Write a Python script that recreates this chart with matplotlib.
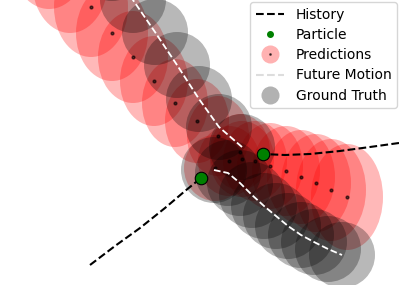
import matplotlib
matplotlib.use('Agg')
import matplotlib.pyplot as plt
from matplotlib.patches import Ellipse, Circle
from matplotlib.lines import Line2D
import numpy as np

# positions (pixel-like units, y grows downward)
hist1_x = [399, 370, 340, 310, 285, 263]
hist1_y = [143, 147, 151, 154, 155, 154]
hist2_x = [90, 115, 140, 165, 185, 201]
hist2_y = [265, 246, 228, 208, 191, 178]

particle_x = [263, 201]
particle_y = [154, 178]

# predicted means + ellipse sizes
pred1_x = [240, 218, 197, 175, 154, 133, 112, 91, 70, 49, 28]
pred1_y = [152, 136, 121, 103, 81, 57, 33, 7, -19, -45, -71]
pred1_w = [60, 62, 64, 66, 68, 70, 72, 74, 76, 78, 80]
pred1_h = [76, 80, 84, 88, 90, 92, 96, 100, 104, 108, 112]

pred2_x = [215, 229, 242, 255, 270, 286, 301, 316, 331, 347]
pred2_y = [168, 161, 159, 161, 166, 171, 177, 183, 190, 197]
pred2_w = [62, 62, 64, 64, 66, 68, 68, 70, 70, 72]
pred2_h = [66, 70, 76, 80, 86, 90, 94, 98, 102, 106]

# ground truth future
gt1_x = [242, 219, 199, 177, 155, 133, 112, 92, 72, 52]
gt1_y = [147, 127, 99, 65, 32, 0, -32, -64, -96, -128]
gt2_x = [214, 228, 240, 252, 264, 276, 288, 301, 314, 328, 342]
gt2_y = [170, 173, 183, 195, 206, 216, 226, 235, 242, 249, 255]
gt_r = 33

fig = plt.figure(figsize=(3.99, 2.85), dpi=100)
ax = fig.add_axes([0, 0, 1, 1])

for xs, ys, ws, hs in [(pred1_x, pred1_y, pred1_w, pred1_h), (pred2_x, pred2_y, pred2_w, pred2_h)]:
  for x, y, w, h in zip(xs, ys, ws, hs):
    ax.add_patch(Ellipse((x, y), w, h, color='red', alpha=0.28, lw=0, zorder=1))

for xs, ys in [(gt1_x, gt1_y), (gt2_x, gt2_y)]:
  for x, y in zip(xs, ys):
    ax.add_patch(Circle((x, y), gt_r, color='black', alpha=0.28, lw=0, zorder=2))
  ax.plot(xs, ys, '--', color='white', lw=1.3, zorder=4)

ax.plot(pred1_x, pred1_y, '.', color='black', alpha=0.6, ms=4, zorder=3)
ax.plot(pred2_x, pred2_y, '.', color='black', alpha=0.6, ms=4, zorder=3)

ax.plot(hist1_x, hist1_y, '--', color='black', lw=1.5, zorder=5)
ax.plot(hist2_x, hist2_y, '--', color='black', lw=1.5, zorder=5)
ax.plot(particle_x, particle_y, 'o', color='green', mec='black', mew=0.8, ms=9, zorder=6)

ax.set_xlim(0, 399)
ax.set_ylim(285, 0)
ax.axis('off')

handles = [
  Line2D([], [], ls='--', color='black', lw=1.5),
  Line2D([], [], ls='', marker='o', color='green', ms=4),
  (Line2D([], [], ls='', marker='o', color='red', alpha=0.3, ms=13, mew=0),
   Line2D([], [], ls='', marker='.', color='black', alpha=0.6, ms=2)),
  Line2D([], [], ls='--', color='#dddddd', lw=1.5),
  Line2D([], [], ls='', marker='o', color='black', alpha=0.3, ms=13, mew=0),
]
labels = ['History', 'Particle', 'Predictions', 'Future Motion', 'Ground Truth']
ax.legend(handles, labels, loc='upper right', fontsize=10, handlelength=2,
          labelspacing=0.45, borderaxespad=0.15, handletextpad=0.85)

fig.savefig('out.png', dpi=100)
